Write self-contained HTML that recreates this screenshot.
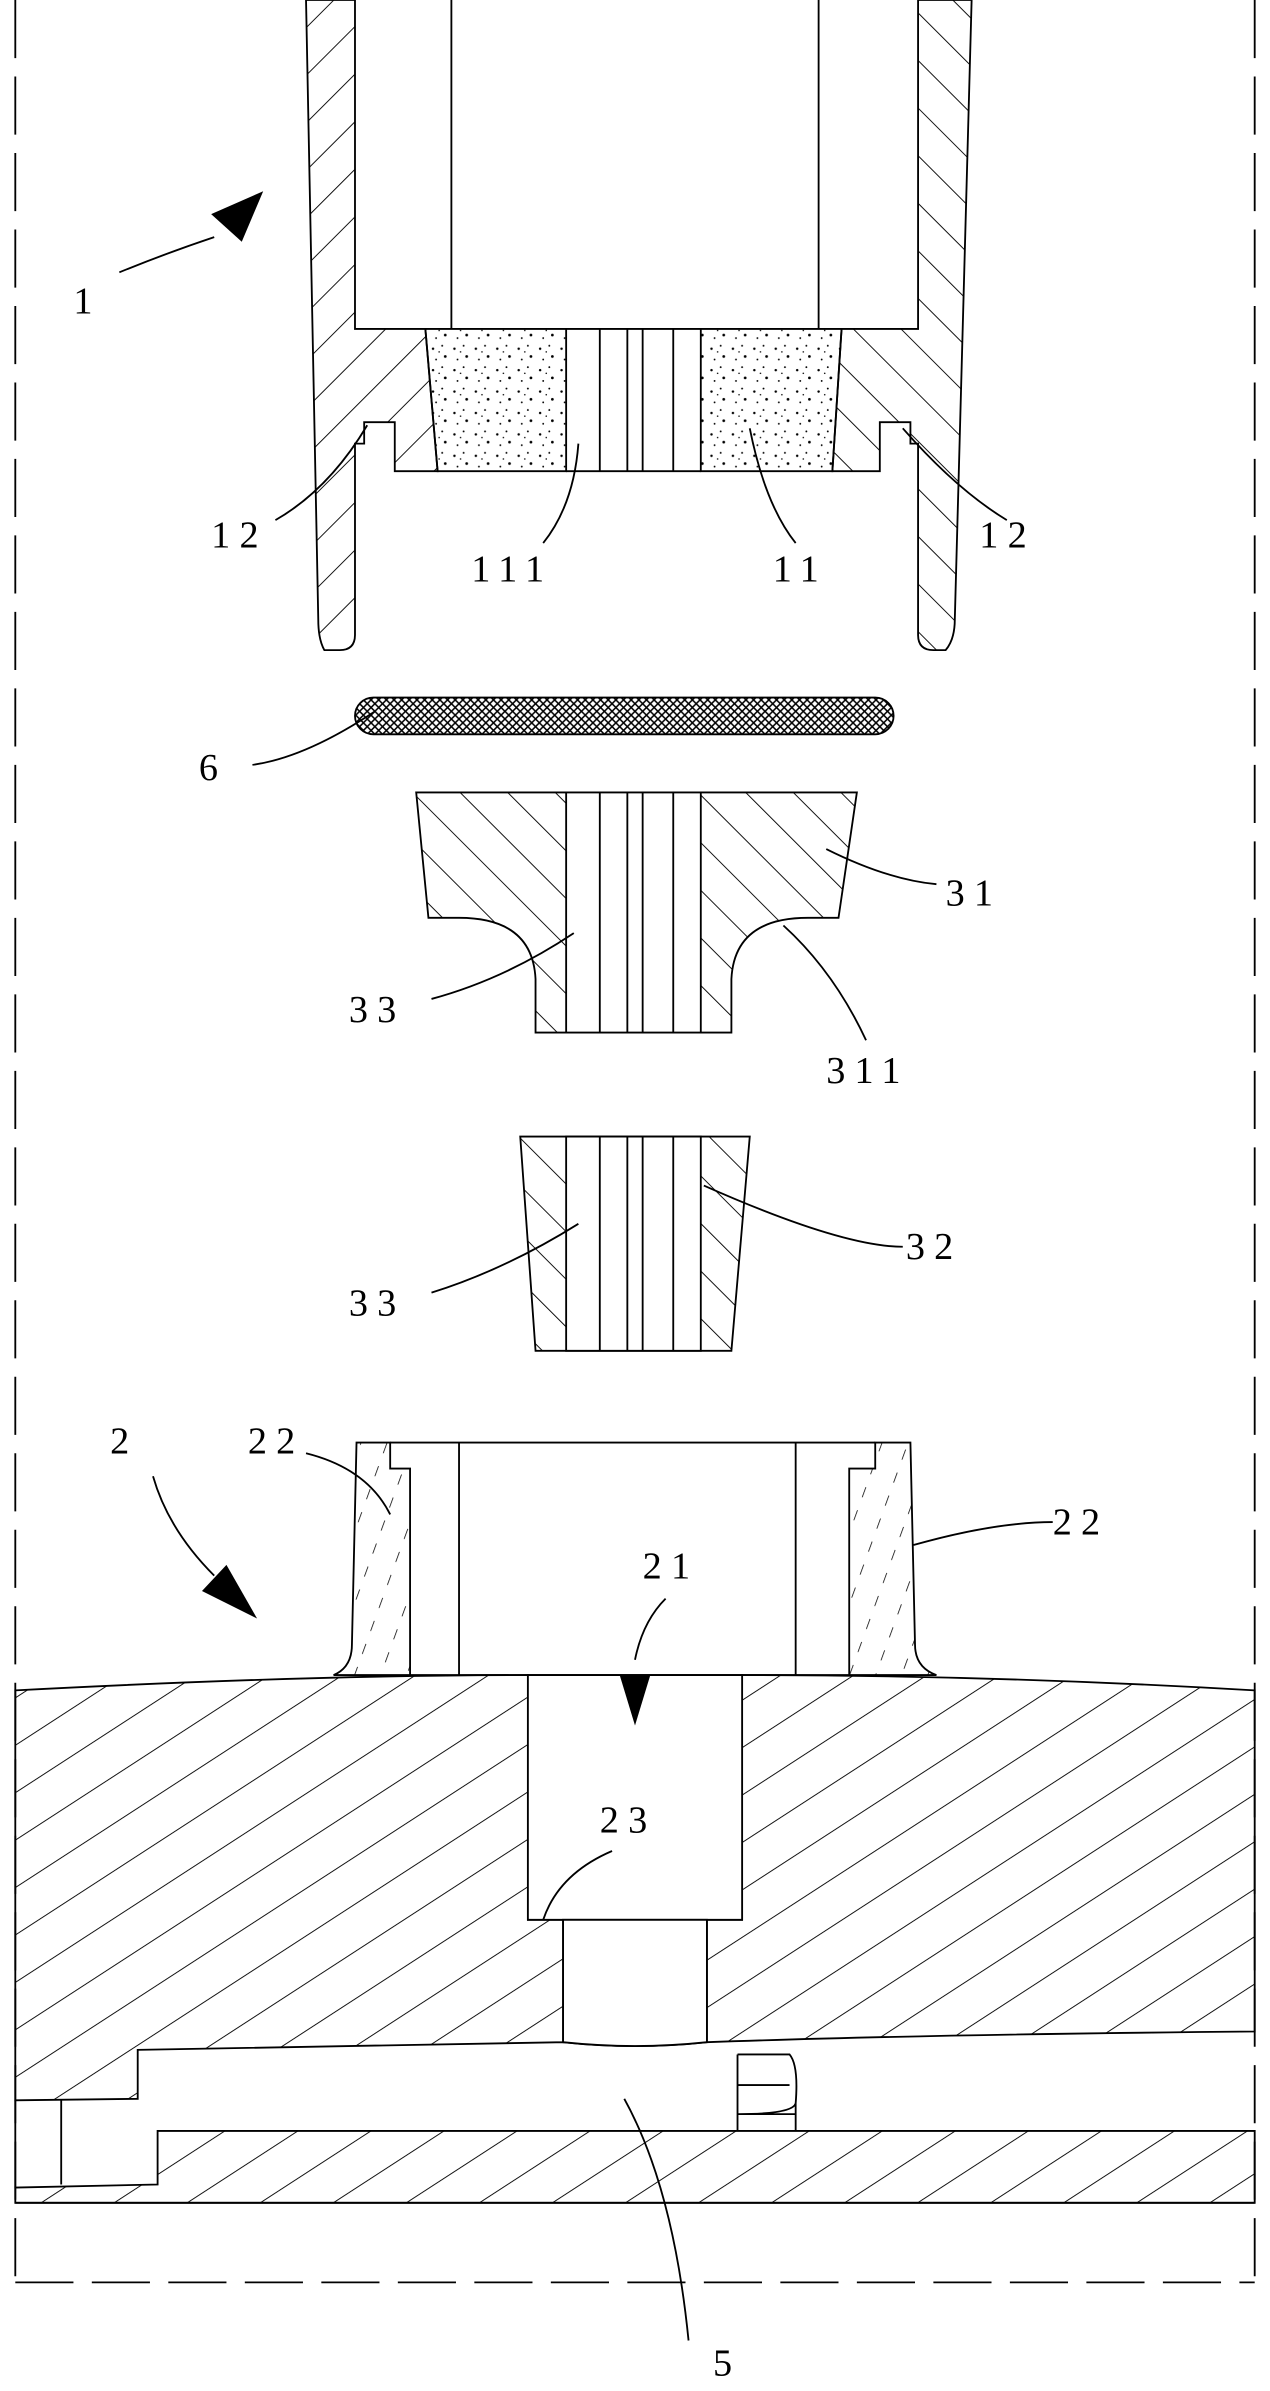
<!DOCTYPE html>
<html><head><meta charset="utf-8"><style>
html,body{margin:0;padding:0;background:#fff;}
svg{display:block;}
text{font-family:"Liberation Serif",serif;font-size:25px;fill:#000;letter-spacing:6px;}
</style></head><body>
<svg width="1270" height="2391" viewBox="0 0 830 1563" preserveAspectRatio="none" xmlns="http://www.w3.org/2000/svg">
<defs>
<pattern id="h1" patternUnits="userSpaceOnUse" width="22" height="22" patternTransform="rotate(45)"><line x1="0" y1="0" x2="0" y2="22" stroke="#000" stroke-width="1.2"/></pattern>
<pattern id="h2" patternUnits="userSpaceOnUse" width="22" height="22" patternTransform="rotate(-45)"><line x1="0" y1="0" x2="0" y2="22" stroke="#000" stroke-width="1.2"/></pattern>
<pattern id="h3" patternUnits="userSpaceOnUse" width="26" height="26" patternTransform="rotate(57)"><line x1="0" y1="0" x2="0" y2="26" stroke="#000" stroke-width="1.2"/></pattern>
<pattern id="h4" patternUnits="userSpaceOnUse" width="16" height="16" patternTransform="rotate(20)"><line x1="0" y1="0" x2="0" y2="7" stroke="#000" stroke-width="1"/></pattern>
<pattern id="sp" patternUnits="userSpaceOnUse" width="14" height="14"><circle cx="3" cy="4" r="0.8"/><circle cx="9" cy="2" r="0.6"/><circle cx="11" cy="9" r="0.9"/><circle cx="5" cy="11" r="0.6"/><circle cx="7" cy="6" r="0.5"/></pattern>
<pattern id="xh" patternUnits="userSpaceOnUse" width="5" height="5"><path d="M0 0L5 5M5 0L0 5" stroke="#000" stroke-width="1"/></pattern>
</defs>
<g fill="none" stroke="#000" stroke-width="1.2">
<line x1="10" y1="0" x2="10" y2="1492" stroke-dasharray="38 12"/>
<line x1="820" y1="0" x2="820" y2="1492" stroke-dasharray="38 12"/>
<line x1="10" y1="1492" x2="820" y2="1492" stroke-dasharray="38 12"/>

<path d="M200 0 L232 0 L232 215 L278 215 L286 308 L258 308 L258 276 L238 276 L238 290 L232 290 L232 415 Q232 425 222 425 L212 425 Q208 418 208 405 Z" fill="url(#h1)"/>
<path d="M635 0 L600 0 L600 215 L550 215 L544 308 L575 308 L575 276 L595 276 L595 290 L600 290 L600 415 Q600 425 610 425 L618 425 Q624 418 624 405 Z" fill="url(#h2)"/>
<line x1="295" y1="0" x2="295" y2="215"/><line x1="535" y1="0" x2="535" y2="215"/>
<path d="M278 215 L370 215 L370 308 L286 308 Z" fill="url(#sp)"/>
<path d="M458 215 L550 215 L544 308 L458 308 Z" fill="url(#sp)"/>
<path d="M370 215 L458 215 M370 308 L458 308 M392 215 V308 M410 215 V308 M420 215 V308 M440 215 V308"/>

<rect x="232" y="456" width="352" height="24" rx="12" fill="url(#xh)"/>

<path d="M272 518 L560 518 L548 600 L528 600 Q480 600 478 640 L478 675 L350 675 L350 640 Q348 600 300 600 L280 600 Z" fill="url(#h2)"/>
<path d="M370 518 H458 V675 H370 Z" fill="#fff"/>
<path d="M392 518 V675 M410 518 V675 M420 518 V675 M440 518 V675"/>

<path d="M340 743 L490 743 L478 883 L350 883 Z" fill="url(#h2)"/>
<path d="M370 743 H458 V883 H370 Z" fill="#fff"/>
<path d="M392 743 V883 M410 743 V883 M420 743 V883 M440 743 V883"/>

<path d="M233 943 L255 943 L255 960 L268 960 L268 1095 L218 1095 Q230 1090 230 1075 Z" fill="url(#h4)"/>
<path d="M595 943 L572 943 L572 960 L555 960 L555 1095 L612 1095 Q598 1090 598 1075 Z" fill="url(#h4)"/>
<path d="M255 943 H572 M300 943 V1095 M520 943 V1095 M268 1095 H555"/>

<path d="M10 1105 Q200 1095 345 1095 L345 1255 L368 1255 L368 1335 Q415 1340 462 1335 L462 1255 L485 1255 L485 1095 Q650 1095 820 1105 L820 1328 Q600 1330 462 1335 Q415 1340 368 1335 Q200 1338 90 1340 L90 1372 L10 1373 Z" fill="url(#h3)"/>
<path d="M345 1095 L485 1095 L485 1255 L345 1255 Z" fill="#fff"/>
<path d="M368 1255 H462 V1335 Q415 1340 368 1335 Z" fill="#fff"/>
<path d="M10 1430 L103 1428 L103 1393 L820 1393 L820 1440 L10 1440 Z" fill="url(#h3)"/>
<path d="M10 1440 H820"/>
<path d="M10 1373 V1430 M40 1373 V1428"/>
<path d="M482 1343 H516 Q522 1350 520 1375 Q518 1382 482 1382 M482 1343 V1393 M482 1382 H520 M482 1363 H516 M520 1375 V1393"/>

<path d="M78 178 Q110 165 140 155"/>
<path d="M180 340 Q215 320 240 278"/>
<path d="M658 340 Q625 320 590 280"/>
<path d="M355 355 Q375 330 378 290"/>
<path d="M520 355 Q500 330 490 280"/>
<path d="M165 500 Q200 495 245 465"/>
<path d="M612 578 Q580 575 540 555"/>
<path d="M282 653 Q330 640 375 610"/>
<path d="M566 680 Q545 635 512 605"/>
<path d="M282 845 Q330 830 378 800"/>
<path d="M590 815 Q550 815 460 775"/>
<path d="M100 965 Q110 1000 140 1030"/>
<path d="M200 950 Q240 960 255 990"/>
<path d="M688 995 Q650 995 597 1010"/>
<path d="M435 1045 Q420 1060 415 1085"/>
<path d="M400 1210 Q365 1225 355 1255"/>
<path d="M408 1372 Q440 1430 450 1530"/>
</g>
<polygon points="172,125 138,140 158,158" fill="#000"/>
<polygon points="168,1058 132,1040 148,1023" fill="#000"/>
<polygon points="415,1128 405,1095 425,1095" fill="#000"/>
<text x="48" y="205">1</text>
<text x="138" y="358">12</text>
<text x="640" y="358">12</text>
<text x="308" y="380">111</text>
<text x="505" y="380">11</text>
<text x="130" y="510">6</text>
<text x="618" y="592">31</text>
<text x="228" y="668">33</text>
<text x="540" y="708">311</text>
<text x="228" y="860">33</text>
<text x="592" y="823">32</text>
<text x="72" y="950">2</text>
<text x="162" y="950">22</text>
<text x="688" y="1003">22</text>
<text x="420" y="1032">21</text>
<text x="392" y="1198">23</text>
<text x="466" y="1553">5</text>
</svg>
</body></html>
